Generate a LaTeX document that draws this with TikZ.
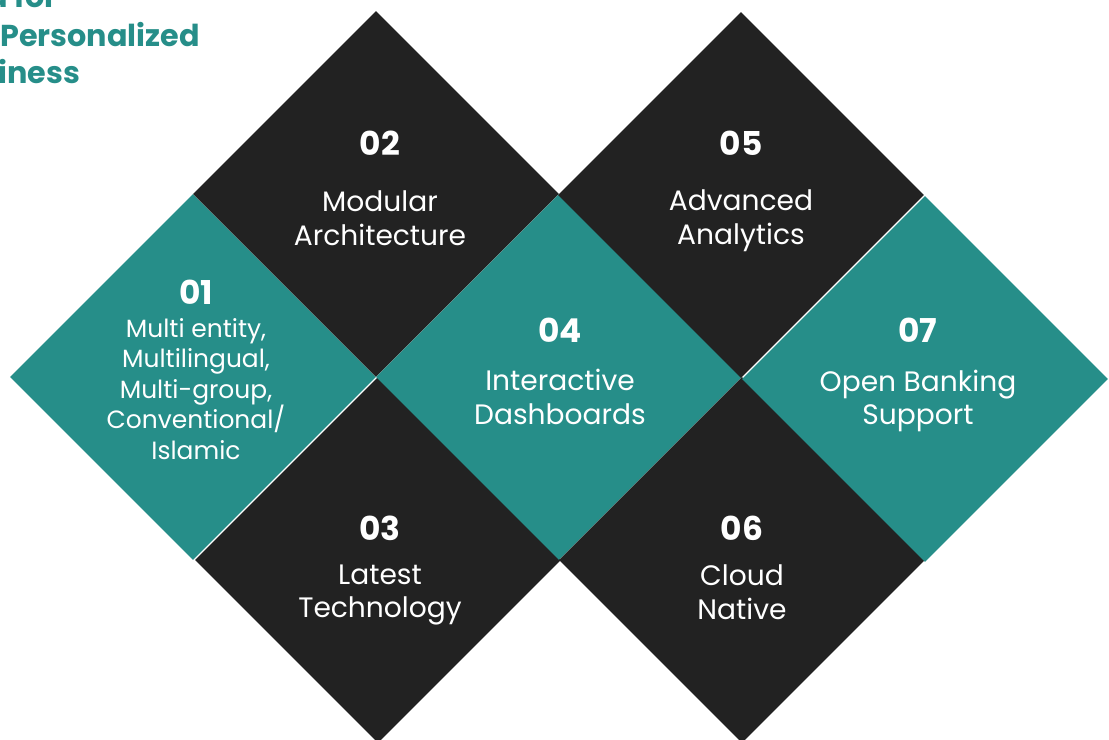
\documentclass[tikz,border=0pt]{standalone}
\usepackage{fontspec}
\setmainfont{Poppins}
\usetikzlibrary{shapes.geometric, positioning}
\definecolor{tealbox}{RGB}{38,142,137}
\definecolor{darkbox}{RGB}{34,34,34}
\tikzset{tile/.style={diamond, aspect=1, minimum width=7.32cm, minimum height=7.32cm,
                      inner sep=0pt, fill=#1},
         num/.style={text=white, inner sep=0pt, font=\fontsize{18.7}{22}\selectfont\bfseries},
         desc/.style={text=white, inner sep=0pt, align=center,
                      font=\fontsize{16}{19.3}\selectfont},
         smalldesc/.style={desc, font=\fontsize{14.2}{17.3}\selectfont},
         headline/.style={text=tealbox, inner sep=0pt, anchor=base west,
                          font=\fontsize{17.2}{21}\selectfont\bfseries}
        }

\begin{document}
\begin{tikzpicture}[x=0.02cm, y=-0.02cm]

\useasboundingbox (0,0) rectangle (1109,740);
\clip (0,0) rectangle (1109,740);

%tiles
\node[tile=tealbox]  (d01) at (193,377) {};
\node[tile=darkbox]  (d02) at (376,194) {};
\node[tile=darkbox]  (d03) at (378,560) {};
\node[tile=tealbox]  (d04) at (559,377) {};
\node[tile=darkbox]  (d05) at (741,195) {};
\node[tile=darkbox]  (d06) at (742,560) {};
\node[tile=tealbox]  (d07) at (925,379) {};

%heading, cut at the left edge
\node[headline] (h1) at (-13,8)  {d for};
\node[headline] (h2) at (0,47)   {Personalized};
\node[headline] (h3) at (-2,84)  {iness};

%numbers and texts
\node[num] (n01) at (196,292) {01};
\node[smalldesc] (t01) at (196,389) {Multi entity,\\Multilingual,\\Multi-group,\\Conventional/\\Islamic};

\node[num] (n02) at (380,143) {02};
\node[desc] (t02) at (380,218) {Modular\\Architecture};

\node[num] (n03) at (380,528) {03};
\node[desc] (t03) at (380,595) {Latest\\Technology};

\node[num] (n04) at (560,330) {04};
\node[desc] (t04) at (560,397) {Interactive\\Dashboards};

\node[num] (n05) at (741,143) {05};
\node[desc] (t05) at (741,221) {Advanced\\Analytics};

\node[num] (n06) at (742,528) {06};
\node[desc] (t06) at (742,592) {Cloud\\Native};

\node[num] (n07) at (918,330) {07};
\node[desc] (t07) at (918,401) {Open Banking\\Support};

\end{tikzpicture}
\end{document}
